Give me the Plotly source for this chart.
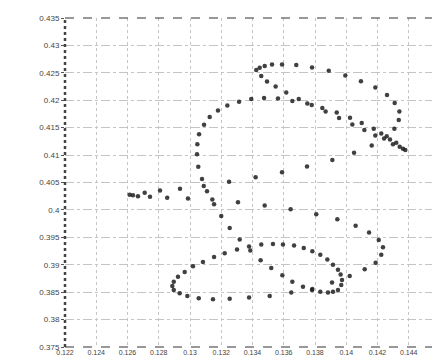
import plotly.graph_objects as go

x_vals = [
    0.13424, 0.13446, 0.13478, 0.13525, 0.13589, 0.13680, 0.13781, 0.13888, 0.13994, 0.14094,
    0.14186, 0.14261, 0.14310, 0.14340, 0.14336, 0.14308, 0.13456, 0.13493, 0.13548, 0.13616,
    0.13392, 0.13474, 0.13563, 0.13655, 0.13696, 0.13751, 0.13314, 0.13239, 0.13179, 0.13126,
    0.13090, 0.13058, 0.13047, 0.13045, 0.13053, 0.13077, 0.13088, 0.13109, 0.13143, 0.13154,
    0.13779, 0.13847, 0.13868, 0.13939, 0.13954, 0.14024, 0.14039, 0.14099, 0.14116, 0.14176,
    0.14186, 0.14224, 0.14242, 0.14259, 0.14280, 0.14299, 0.14320, 0.14342, 0.14363, 0.14378,
    0.14163, 0.14050, 0.13911, 0.13749, 0.13589, 0.13420, 0.13250, 0.13307,
    0.12614, 0.12635, 0.12667, 0.12710, 0.12744, 0.12808, 0.12854, 0.12936, 0.12987,
    0.13478, 0.13644, 0.13808, 0.13943, 0.14060, 0.14146, 0.14208, 0.14235, 0.14224, 0.14188,
    0.14118, 0.14022,
    0.13200, 0.13254, 0.13318, 0.13301, 0.13222, 0.13154, 0.13083, 0.13019, 0.12966, 0.12923,
    0.12896, 0.12887, 0.12896, 0.12934, 0.12983, 0.13056, 0.13147, 0.13254, 0.13378, 0.13510,
    0.13648, 0.13783, 0.13834, 0.13883, 0.13915, 0.13947, 0.13968, 0.13973, 0.13964, 0.13947,
    0.13915, 0.13879, 0.13834, 0.13783, 0.13728, 0.13666, 0.13595, 0.13531, 0.13456, 0.13378,
    0.13386, 0.13452, 0.13520, 0.13591, 0.13655, 0.13723, 0.13781, 0.13909,
]
y_vals = [
    0.42550, 0.42594, 0.42623, 0.42653, 0.42653, 0.42641, 0.42599, 0.42540, 0.42450, 0.42347,
    0.42233, 0.42095, 0.41950, 0.41794, 0.41639, 0.41482, 0.42442, 0.42341, 0.42251, 0.42143,
    0.42023, 0.42041, 0.42032, 0.41987, 0.42023, 0.41941, 0.41974, 0.41902, 0.41812, 0.41693,
    0.41554, 0.41379, 0.41199, 0.41014, 0.40785, 0.40563, 0.40437, 0.40341, 0.40190, 0.40104,
    0.41914, 0.41860, 0.41794, 0.41776, 0.41675, 0.41680, 0.41559, 0.41585, 0.41459, 0.41482,
    0.41356, 0.41392, 0.41302, 0.41343, 0.41284, 0.41199, 0.41224, 0.41152, 0.41116, 0.41091,
    0.41176, 0.41044, 0.40911, 0.40792, 0.40686, 0.40594, 0.40514, 0.40140,
    0.40275, 0.40269, 0.40251, 0.40311, 0.40239, 0.40352, 0.40224, 0.40386, 0.40206,
    0.40082, 0.40010, 0.39920, 0.39830, 0.39711, 0.39590, 0.39451, 0.39320, 0.39181, 0.39037,
    0.38918, 0.38797,
    0.39891, 0.39668, 0.39459, 0.39278, 0.39212, 0.39140, 0.39050, 0.38972, 0.38869, 0.38779,
    0.38689, 0.38612, 0.38540, 0.38478, 0.38432, 0.38388, 0.38370, 0.38378, 0.38401, 0.38432,
    0.38496, 0.38558, 0.38509, 0.38496, 0.38509, 0.38540, 0.38630, 0.38720, 0.38821, 0.38911,
    0.39001, 0.39098, 0.39181, 0.39248, 0.39307, 0.39350, 0.39368, 0.39379, 0.39368, 0.39332,
    0.39260, 0.39080, 0.38941, 0.38810, 0.38689, 0.38599, 0.38540, 0.38677,
]

x_ticks = [0.122, 0.124, 0.126, 0.128, 0.13, 0.132, 0.134, 0.136, 0.138, 0.14, 0.142, 0.144, 0.146]
x_tick_labels = ["0.122", "0.124", "0.126", "0.128", "0.13", "0.132", "0.134", "0.136",
                 "0.138", "0.14", "0.142", "0.144", "0.146"]
y_ticks = [0.375, 0.38, 0.385, 0.39, 0.395, 0.4, 0.405, 0.41, 0.415, 0.42, 0.425, 0.43, 0.435]
y_tick_labels = ["0.375", "0.38", "0.385", "0.39", "0.395", "0.4", "0.405", "0.41",
                 "0.415", "0.42", "0.425", "0.43", "0.435"]

fig = go.Figure()
fig.add_trace(go.Scatter(
    x=x_vals, y=y_vals, mode="markers",
    marker=dict(size=4.5, color="#1e1e1e", opacity=0.85, line=dict(width=0)),
    showlegend=False,
))

font = dict(family="Liberation Sans, Arial, sans-serif", size=8, color="#444")
xfont = dict(family="Liberation Sans, Arial, sans-serif", size=7, color="#444")

fig.update_xaxes(
    range=[0.122, 0.146], tickvals=x_ticks, ticktext=x_tick_labels,
    showgrid=True, gridcolor="#c4c4c4", griddash="dot", gridwidth=1,
    zeroline=False, showline=False, ticks="", tickfont=xfont, automargin=False,
    ticklabelstandoff=0,
)
fig.update_yaxes(
    range=[0.375, 0.435], tickvals=y_ticks, ticktext=y_tick_labels,
    showgrid=True, gridcolor="#c4c4c4", griddash="dashdot", gridwidth=1,
    zeroline=False, showline=False, ticks="outside", ticklen=3, tickcolor="#555",
    tickfont=font, automargin=False,
)

# frame: dashed top and bottom, dense dotted left and right
fig.add_shape(type="line", xref="paper", yref="paper", x0=0, x1=1, y0=1, y1=1,
              line=dict(color="#333", width=1.2, dash="dash"))
fig.add_shape(type="line", xref="paper", yref="paper", x0=0, x1=1, y0=0, y1=0,
              line=dict(color="#333", width=1.2, dash="dash"))
fig.add_shape(type="line", xref="paper", yref="paper", x0=0, x1=0, y0=0, y1=1,
              line=dict(color="#444", width=2.5, dash="dot"))
fig.add_shape(type="line", xref="paper", yref="paper", x0=1, x1=1, y0=0, y1=1,
              line=dict(color="#444", width=2.5, dash="dot"))

fig.update_layout(
    width=440, height=357,
    margin=dict(l=57, r=8, t=10, b=18),
    paper_bgcolor="white", plot_bgcolor="white",
)

fig.write_html("out.html")
